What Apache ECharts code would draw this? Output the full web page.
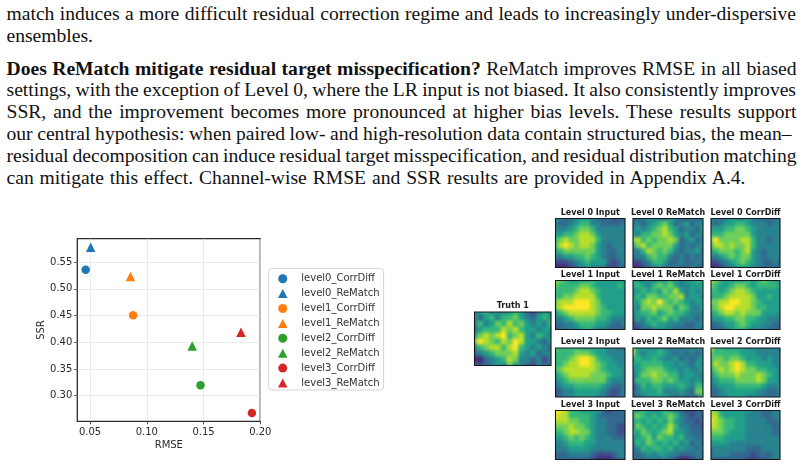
<!DOCTYPE html>
<html>
<head>
<meta charset="utf-8">
<title>ReMatch bias levels</title>
<script src="https://cdn.jsdelivr.net/npm/echarts@6/dist/echarts.min.js"></script>
<style>
  html, body { margin: 0; padding: 0; background: #fff; width: 808px; height: 466px; overflow: hidden; }
  .layer { position: absolute; left: 0; top: 0; width: 808px; height: 466px; }
  #fields { filter: blur(1.7px); }
  .ln { position: absolute; left: 6.5px; height: 22px; line-height: 22px; font-family: "Liberation Serif", serif;
        font-size: 19.6px; color: #111; white-space: nowrap; }
</style>
</head>
<body>
<div class="ln" data-w="789.5" style="top:3px">match induces a more difficult residual correction regime and leads to increasingly under-dispersive</div>
<div class="ln" style="top:25px">ensembles.</div>
<div class="ln" data-w="790" style="top:58px"><b>Does ReMatch mitigate residual target misspecification?</b> ReMatch improves RMSE in all biased</div>
<div class="ln" data-w="789.5" style="top:79px">settings, with the exception of Level 0, where the LR input is not biased. It also consistently improves</div>
<div class="ln" data-w="790" style="top:101px">SSR, and the improvement becomes more pronounced at higher bias levels. These results support</div>
<div class="ln" data-w="785" style="top:123px">our central hypothesis: when paired low- and high-resolution data contain structured bias, the mean–</div>
<div class="ln" data-w="790" style="top:145px">residual decomposition can induce residual target misspecification, and residual distribution matching</div>
<div class="ln" data-w="739" style="top:167px">can mitigate this effect. Channel-wise RMSE and SSR results are provided in Appendix A.4.</div>
<div id="fieldClip" class="layer"><div id="fields" class="layer"></div></div>
<div id="main" class="layer"></div>
<script>
// Justify each line of the paragraph to its measure by adjusting the word spacing.
document.querySelectorAll('.ln[data-w]').forEach(el => {
  const spaces = el.textContent.trim().split(/\s+/).length - 1;
  const natural = el.getBoundingClientRect().width;
  el.style.wordSpacing = ((+el.dataset.w - natural) / spaces) + 'px';
});

// Scatter of RMSE against SSR for each bias level and method.
const seriesNames = ['level0_CorrDiff','level0_ReMatch','level1_CorrDiff','level1_ReMatch',
                     'level2_CorrDiff','level2_ReMatch','level3_CorrDiff','level3_ReMatch'];
const rmseValues = [0.0462,0.0506,0.0880,0.0856,0.1473,0.1400,0.1926,0.1830];
const ssrValues  = [0.536,0.578,0.4506,0.523,0.3194,0.393,0.2675,0.419];
const seriesColors = ['#1f77b4','#1f77b4','#ff7f0e','#ff7f0e','#2ca02c','#2ca02c','#d62728','#d62728'];
const rmseTicks = [0.05,0.10,0.15,0.20];
const ssrTicks  = [0.30,0.35,0.40,0.45,0.50,0.55];

// Sample fields on a 14 x 10 grid, top row first, on a 0-9 colour scale.
const truth1 = [
 [4,5,6,4,5,4,5,6,5,3,2,4,5,4],[5,3,5,6,4,6,6,7,5,4,3,5,6,5],[4,6,4,5,7,6,8,6,7,5,4,5,4,6],
 [3,5,6,6,6,8,7,8,6,5,5,4,5,5],[5,7,8,7,8,9,6,7,8,5,4,6,5,4],[7,9,8,7,6,8,7,9,8,5,5,4,3,5],
 [4,6,7,8,8,6,8,9,6,5,4,5,4,3],[3,4,5,6,7,7,7,8,5,4,5,3,4,4],[1,1,3,4,5,6,8,7,4,4,3,4,2,4],
 [3,2,3,4,5,4,7,5,4,3,2,4,3,3]];
const level0Input = [
 [5,4,3,3,4,5,5,4,3,3,3,2,3,3],[4,3,3,4,5,6,6,4,4,3,3,3,3,4],[4,4,4,5,6,7,7,6,4,4,4,4,4,4],
 [5,5,6,6,7,8,8,7,5,4,4,4,4,4],[6,7,8,7,7,8,8,8,6,4,4,4,4,4],[6,8,9,8,7,8,8,7,5,4,3,4,4,4],
 [5,6,7,7,7,7,7,7,5,4,3,3,4,4],[4,4,5,5,6,6,7,6,5,4,3,3,4,4],[2,2,2,3,4,5,6,5,5,5,3,2,3,4],
 [1,1,1,2,3,4,5,4,4,4,2,2,3,3]];
const level0ReMatch = [
 [4,3,4,5,4,4,3,5,4,3,2,4,3,4],[3,4,3,4,5,6,7,5,3,4,5,3,4,4],[4,5,4,5,6,7,8,6,5,3,4,4,3,5],
 [5,4,6,6,7,7,8,7,5,4,5,3,4,4],[7,8,6,7,6,7,7,8,7,3,4,5,3,4],[5,7,8,6,7,7,7,7,5,3,4,3,4,4],
 [4,4,6,8,7,6,7,6,4,3,4,4,5,3],[3,4,4,6,7,6,6,4,3,4,3,4,3,4],[2,2,3,4,6,6,5,3,3,4,3,3,4,3],
 [1,1,2,3,4,5,3,3,4,3,3,4,3,3]];
const level0CorrDiff = [
 [4,4,3,4,5,4,4,5,4,3,3,3,3,4],[4,3,4,5,5,6,6,5,4,4,4,3,4,4],[5,5,5,6,6,7,7,6,5,4,4,4,4,4],
 [6,6,6,7,7,7,7,7,5,4,4,4,4,4],[7,9,7,7,7,7,8,8,6,4,4,3,4,4],[6,8,8,7,8,7,7,8,6,4,4,4,4,4],
 [5,6,7,7,7,6,7,8,5,4,3,4,4,4],[4,4,5,6,7,6,7,7,5,4,3,4,4,4],[2,2,3,4,5,6,7,6,5,4,3,3,4,3],
 [1,1,2,3,4,5,5,5,4,4,3,3,3,4]];
const level1Input = [
 [8,7,6,5,5,5,5,6,5,5,5,5,5,5],[7,6,6,6,6,7,7,6,5,5,5,5,6,5],[6,6,6,6,7,8,8,7,6,5,5,5,5,5],
 [6,6,7,7,8,8,8,8,6,5,5,5,5,5],[7,8,8,8,9,9,9,8,7,5,5,5,5,5],[7,8,9,9,9,9,9,8,7,6,5,5,5,5],
 [5,6,7,8,8,8,8,8,7,6,6,5,5,5],[4,4,5,6,7,7,7,7,6,6,5,4,4,4],[3,3,4,4,5,6,6,6,5,5,4,3,3,4],
 [2,3,3,4,4,5,6,5,4,4,3,3,3,3]];
const level1ReMatch = [
 [6,5,4,5,4,5,5,6,5,4,5,5,6,5],[5,6,5,4,6,7,6,7,5,4,4,5,5,5],[4,5,6,5,6,5,7,6,8,5,4,5,4,5],
 [4,6,5,7,7,6,6,7,7,8,4,5,5,4],[5,5,7,8,7,9,7,6,7,6,5,4,5,5],[5,4,7,7,8,7,7,7,5,7,6,4,4,5],
 [4,5,6,6,7,5,6,7,6,6,5,4,4,4],[3,5,4,6,5,6,7,5,6,4,4,4,3,4],[2,3,4,5,6,5,5,4,4,4,3,3,4,4],
 [2,2,3,3,4,5,4,4,3,3,3,3,4,3]];
const level1CorrDiff = [
 [8,7,6,5,5,5,5,6,5,6,7,6,5,5],[7,6,5,5,6,7,7,6,5,6,6,6,6,5],[6,6,5,6,7,8,8,7,6,5,5,5,5,5],
 [5,6,6,7,8,8,8,8,7,5,5,6,5,5],[7,7,8,8,9,9,8,8,7,6,5,5,5,5],[6,7,8,9,9,8,8,8,7,6,6,5,5,5],
 [5,6,7,8,8,7,8,7,7,7,5,5,5,4],[4,5,5,6,6,7,7,6,6,5,5,4,4,4],[3,3,4,5,5,6,7,6,5,5,4,4,3,3],
 [2,3,3,4,5,6,6,5,4,4,4,3,3,3]];
const level2Input = [
 [7,6,6,6,6,5,5,5,5,5,4,4,3,3],[6,6,6,6,7,7,7,6,5,5,4,4,4,4],[6,6,6,7,8,9,9,8,6,5,5,4,4,4],
 [6,6,7,8,8,9,9,8,7,6,5,5,4,4],[6,7,8,8,8,8,8,8,7,6,5,5,5,4],[5,6,7,8,8,8,8,7,7,7,6,5,5,4],
 [4,5,6,7,7,7,7,7,7,7,5,4,4,4],[3,4,5,5,6,6,6,6,6,5,4,3,3,4],[2,3,4,4,5,5,5,5,5,4,3,2,3,4],
 [2,3,4,4,5,5,5,5,4,4,2,2,3,4]];
const level2ReMatch = [
 [8,5,5,4,4,5,4,3,4,3,4,4,4,4],[8,5,4,5,5,6,5,4,3,4,3,4,3,4],[5,6,5,5,6,5,4,4,5,3,4,3,4,5],
 [5,5,6,6,6,6,5,5,4,5,4,3,5,4],[4,5,6,7,7,7,6,5,5,4,5,4,4,5],[3,5,7,7,8,7,7,6,6,4,5,5,4,4],
 [3,6,6,6,7,7,6,7,6,5,5,4,5,4],[2,4,6,5,6,6,5,5,5,6,5,4,6,6],[2,4,5,5,5,6,4,4,4,5,4,3,7,7],
 [2,3,4,5,5,5,5,4,3,4,3,3,4,6]];
const level2CorrDiff = [
 [9,6,6,5,5,5,5,4,4,4,4,4,4,4],[7,6,6,6,6,6,5,5,5,4,4,4,4,4],[6,7,7,6,7,7,6,5,5,5,4,5,4,4],
 [6,8,7,7,8,9,8,6,6,5,5,5,4,4],[5,7,8,7,8,9,8,7,7,6,6,5,5,4],[4,6,7,7,7,8,7,7,7,8,7,6,5,4],
 [4,5,6,6,6,7,7,7,7,8,7,5,5,4],[3,4,5,5,5,6,6,6,6,6,5,4,4,4],[3,3,4,5,5,5,5,5,5,4,4,3,3,4],
 [3,3,4,4,5,5,5,4,4,4,3,3,3,4]];
const level3Input = [
 [9,9,8,6,6,5,5,5,5,3,2,3,3,4],[9,8,8,6,6,6,6,5,4,3,3,3,3,3],[8,8,8,7,7,6,6,5,4,4,3,3,3,3],
 [7,7,7,8,7,7,6,5,4,4,3,3,2,2],[6,6,7,8,8,7,7,5,4,4,3,3,2,2],[5,5,6,7,6,7,6,5,4,4,4,3,3,3],
 [4,4,5,6,6,6,5,5,4,4,4,4,4,4],[4,4,4,5,5,5,5,4,4,4,4,4,4,4],[3,3,3,4,4,4,4,3,2,2,2,3,4,4],
 [3,3,3,3,3,3,3,2,1,1,1,2,3,4]];
const level3ReMatch = [
 [5,5,6,5,4,5,6,5,4,3,2,2,3,3],[6,7,6,5,6,5,6,7,6,4,3,2,3,3],[5,6,5,6,5,6,5,7,5,4,3,3,2,3],
 [4,7,6,5,6,5,6,8,6,4,4,3,3,2],[6,5,7,6,5,6,7,8,5,5,4,3,3,3],[4,5,6,7,5,7,6,6,5,6,4,4,3,3],
 [4,6,5,7,6,5,6,5,6,4,5,3,4,3],[3,4,6,5,6,6,5,6,4,5,4,4,3,4],[3,3,4,5,4,5,5,4,4,3,3,3,4,3],
 [3,3,3,3,4,3,4,3,2,1,1,2,3,3]];
const level3CorrDiff = [
 [8,7,5,5,5,5,5,5,4,4,3,3,4,4],[8,8,6,5,5,5,5,4,4,4,3,3,4,4],[9,8,7,6,6,5,5,4,4,4,4,3,3,4],
 [8,8,7,6,6,5,5,4,4,4,4,4,3,3],[7,7,7,6,5,5,5,4,4,4,4,4,3,3],[6,6,6,5,5,5,5,4,4,4,4,4,4,4],
 [5,5,5,5,4,4,4,4,4,4,4,4,4,4],[4,4,4,4,4,4,4,3,3,3,4,4,4,4],[3,4,4,4,3,3,3,3,2,3,3,3,4,4],
 [3,3,3,3,3,3,3,2,2,2,3,3,4,4]];

const viridis = ['#440154','#482878','#3e4a89','#31688e','#26828e','#1f9e89','#35b779','#6ece58','#b5de2b','#fde725'];

// Panel placement: columns and rows of the small multiples, plus the larger truth panel.
const colX = [555.5, 633, 711];
const colW = [69.5, 70, 69];
const rowY = [218.5, 280.5, 348, 410.5];
const rowH = 49;
const panels = [
  {title:'Truth 1', field:truth1, x:474.5, y:312, w:76.5, h:53.5}
];
const levelFields = [
  [level0Input, level0ReMatch, level0CorrDiff],
  [level1Input, level1ReMatch, level1CorrDiff],
  [level2Input, level2ReMatch, level2CorrDiff],
  [level3Input, level3ReMatch, level3CorrDiff]
];
const methods = ['Input','ReMatch','CorrDiff'];
levelFields.forEach((row, r) => row.forEach((field, c) => {
  panels.push({title:`Level ${r} ${methods[c]}`, field, x:colX[c], y:rowY[r], w:colW[c], h:rowH});
}));

// The softened colour layer bleeds past each panel, so it is cut back to the panel rectangles.
const bleed = 3;
document.getElementById('fieldClip').style.clipPath = 'path("' + panels.map(p =>
  `M${p.x} ${p.y}H${p.x+p.w}V${p.y+p.h}H${p.x}Z`).join('') + '")';

const fieldChart = echarts.init(document.getElementById('fields'), null, {renderer:'canvas', width:808, height:466});
const idx = n => Array.from({length:n}, (_, i) => i);
fieldChart.setOption({
  animation:false,
  backgroundColor:'transparent',
  grid: panels.map(p => ({left:p.x-bleed, top:p.y-bleed, width:p.w+2*bleed, height:p.h+2*bleed, show:false})),
  xAxis: panels.map((p,i) => ({gridIndex:i, type:'category', data:idx(14), show:false})),
  yAxis: panels.map((p,i) => ({gridIndex:i, type:'category', data:idx(10), inverse:true, show:false})),
  visualMap: {show:false, min:0, max:9, seriesIndex:panels.map((p,i)=>i), dimension:2, inRange:{color:viridis}},
  series: panels.map((p,i) => ({
    type:'heatmap', xAxisIndex:i, yAxisIndex:i, silent:true, progressive:0,
    data:p.field.flatMap((row, y) => row.map((v, x) => [x, y, v]))
  }))
});

// Scatter, legend, panel frames and titles stay crisp above.
const chart = echarts.init(document.getElementById('main'), null, {renderer:'canvas', width:808, height:466});
const panelGraphics = panels.flatMap(p => [
  {type:'rect', shape:{x:p.x, y:p.y, width:p.w, height:p.h}, silent:true,
   style:{fill:'none', stroke:'#15171a', lineWidth:1.1}},
  {type:'text', silent:true, style:{text:p.title, x:p.x+p.w/2, y:p.y-5.8, align:'center', verticalAlign:'middle',
    font:'bold 8px "DejaVu Sans"', fill:'#1a1a1a'}}
]);
const axisText = {fontFamily:'DejaVu Sans', fontSize:10, color:'#2a2a2a'};
chart.setOption({
  animation:false,
  backgroundColor:'transparent',
  grid:{left:77.3, top:238.7, width:183, height:182.6, show:true, borderColor:'#2a2a2a', borderWidth:1.3, backgroundColor:'transparent'},
  xAxis:{
    type:'value', min:0.0388, max:0.2,
    name:'RMSE', nameLocation:'middle', nameGap:19, nameTextStyle:axisText,
    axisLine:{show:false},
    axisTick:{show:true, length:3, customValues:rmseTicks, lineStyle:{color:'#2a2a2a', width:0.8}},
    axisLabel:{...axisText, margin:6, customValues:rmseTicks, formatter:v=>v.toFixed(2)},
    splitLine:{show:true, lineStyle:{color:'#e6e6e6', width:0.8}}
  },
  yAxis:{
    type:'value', min:0.252, max:0.594,
    name:'SSR', nameLocation:'middle', nameGap:30.5, nameTextStyle:axisText,
    axisLine:{show:false},
    axisTick:{show:true, length:3, customValues:ssrTicks, lineStyle:{color:'#2a2a2a', width:0.8}},
    axisLabel:{...axisText, margin:5, padding:[2,0,0,0], customValues:ssrTicks, formatter:v=>v.toFixed(2)},
    splitLine:{show:true, lineStyle:{color:'#e6e6e6', width:0.8}}
  },
  legend:{
    orient:'vertical', left:268.7, top:268.7, padding:[5,4,2,9.3],
    itemWidth:9.5, itemHeight:9, itemGap:4.9,
    borderColor:'#d4d4d4', borderWidth:1, borderRadius:3,
    textStyle:{...axisText, color:'#333', padding:[0,0,0,8.8]},
    data:seriesNames.map((n,i)=>({name:n, icon:i%2?'triangle':'circle'}))
  },
  series:seriesNames.map((name,i)=>({
    name, type:'scatter', symbol:i%2?'triangle':'circle', symbolSize:i%2?9.5:8.5,
    itemStyle:{color:seriesColors[i], opacity:1},
    data:[[rmseValues[i], ssrValues[i]]]
  })),
  graphic:{elements:panelGraphics}
});
</script>
</body>
</html>
